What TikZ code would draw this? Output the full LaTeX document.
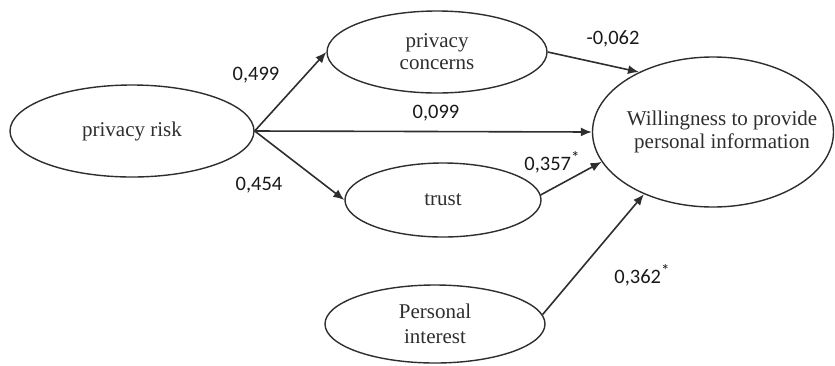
\documentclass[tikz,border=0pt]{standalone}
\usepackage{fontspec}
\setmainfont{Liberation Serif}
\newfontfamily\lblfont{Carlito}
\usetikzlibrary{shapes.geometric,arrows.meta}
\definecolor{ink}{HTML}{2E2E2E}
\newcommand{\sigstar}{\raisebox{7pt}{\fontsize{17}{17}\selectfont *}}
\tikzset{
  var/.style={ellipse, draw=ink, line width=1.4pt, inner sep=0pt, align=center,
    text=ink, font=\fontsize{21}{23}\selectfont},
  path/.style={draw=ink, line width=1.6pt, -{Latex[length=11pt,width=9pt]}},
  coef/.style={inner sep=0pt, text=black!90, font=\lblfont\fontsize{20.5}{24}\selectfont}
}
\begin{document}
\begin{tikzpicture}[x=1pt,y=-1pt]
\useasboundingbox (0,0) rectangle (835,365);
\node[var, minimum width=244pt, minimum height=92pt] (risk) at (132,131) {privacy risk};
\node[var, minimum width=220pt, minimum height=82pt] (conc) at (437,52) {privacy\\[-1pt]concerns};
\node[var, minimum width=196pt, minimum height=74pt] (trust) at (443,200) {trust};
\node[var, inner xsep=-24pt, minimum width=241pt, minimum height=150pt] (will) at (713,132) {\hspace*{18pt}Willingness to provide\\\hspace*{18pt}personal information};
\node[var, minimum width=220pt, minimum height=78pt] (pint) at (435,324) {Personal\\[2pt]interest};

\draw[path] (risk.east) -- (conc.west);
\draw[path] (risk.east) -- (trust.west);
\draw[path] (risk.east) -- (will.west);
\draw[path] (conc.east) -- (will.141.8);
\draw[path] (trust.3) -- (will.195.1);
\draw[path] (pint.5) -- (will.222.8);

\node[coef] (c1) at (256,75) {0,499};
\node[coef] (c2) at (259,185) {0,454};
\node[coef] (c3) at (436,113) {0,099};
\node[coef] (c4) at (613,39) {-0,062};
\node[coef] (c5) at (552,162) {0,357\sigstar};
\node[coef] (c6) at (642,275) {0,362\sigstar};
\end{tikzpicture}
\end{document}
